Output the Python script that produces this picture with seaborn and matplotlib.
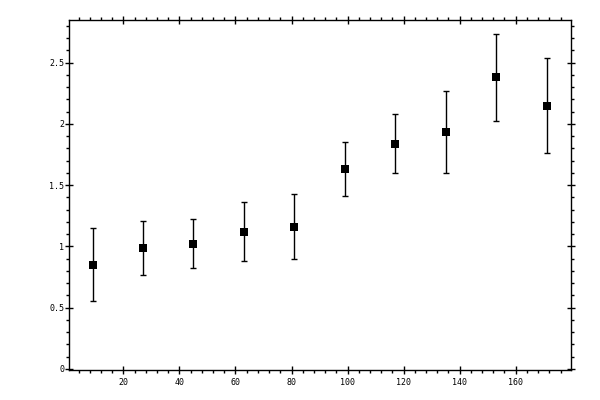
import matplotlib
matplotlib.use("Agg")
import matplotlib.pyplot as plt
import seaborn as sns
import numpy as np
import pandas as pd
from matplotlib.ticker import MultipleLocator, FuncFormatter

# Data
x_vals = [9, 27, 45, 63, 81, 99, 117, 135, 153, 171]
y_vals = [0.85, 0.99, 1.02, 1.12, 1.16, 1.63, 1.84, 1.93, 2.38, 2.15]
y_err = [0.30, 0.22, 0.20, 0.24, 0.265, 0.22, 0.24, 0.335, 0.355, 0.385]

x_ticks = [20, 40, 60, 80, 100, 120, 140, 160]
y_ticks = [0, 0.5, 1, 1.5, 2, 2.5]

df = pd.DataFrame({"x": x_vals, "y": y_vals, "err": y_err})

sns.set_theme(style="ticks")
plt.rcParams["font.family"] = ["DejaVu Sans Mono", "DejaVu Sans"]

fig = plt.figure(figsize=(6, 4), dpi=100)
ax = fig.add_axes([0.1155, 0.075, 0.951 - 0.1155, 0.951 - 0.075])

ax.errorbar(df["x"], df["y"], yerr=df["err"], fmt="none", ecolor="black",
            elinewidth=1.0, capsize=2.2, capthick=1.0, zorder=2)
sns.scatterplot(data=df, x="x", y="y", marker="s", s=26, color="black",
                edgecolor="black", linewidth=0, ax=ax, zorder=3, legend=False)

ax.set_xlim(0.7, 179.6)
ax.set_ylim(-0.01, 2.852)
ax.set_xlabel("")
ax.set_ylabel("")

ax.set_xticks(x_ticks)
ax.set_yticks(y_ticks)
ax.xaxis.set_minor_locator(MultipleLocator(4))
ax.yaxis.set_minor_locator(MultipleLocator(0.1))

def yfmt(v, pos):
    return ("%g" % v)
ax.yaxis.set_major_formatter(FuncFormatter(yfmt))

for side in ["left", "right", "top", "bottom"]:
    ax.spines[side].set_visible(True)
    ax.spines[side].set_linewidth(1.0)
    ax.spines[side].set_color("black")

ax.tick_params(which="major", direction="inout", length=6, width=1.0,
               color="black", top=True, right=True, labelsize=6,
               labelcolor="black")
ax.tick_params(which="minor", direction="out", length=2.4, width=1.0,
               color="black", top=True, right=True)
ax.tick_params(axis="x", which="major", pad=2.5)
ax.tick_params(axis="y", which="major", pad=0.5)

fig.savefig("out.png", dpi=100)
